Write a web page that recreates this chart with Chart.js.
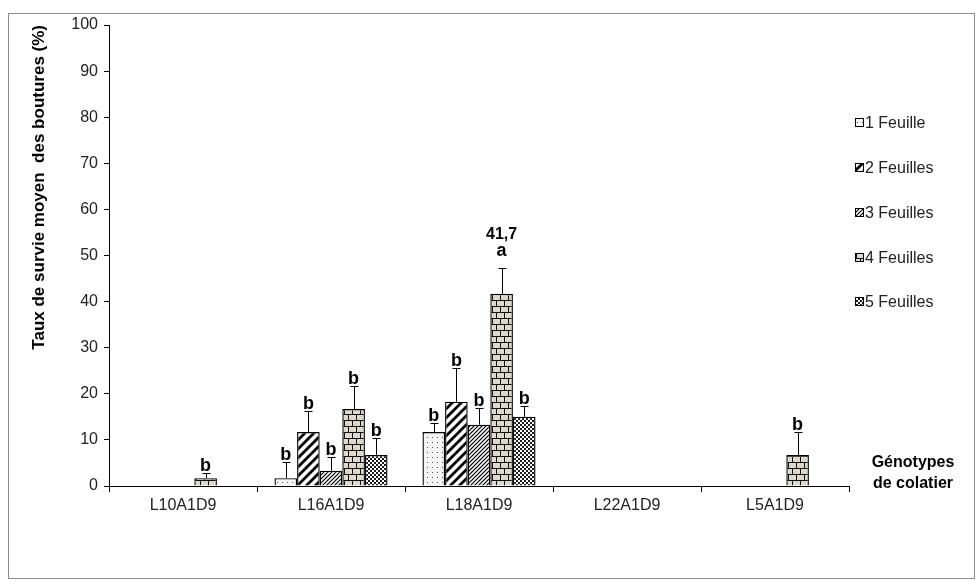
<!DOCTYPE html>
<html>
<head>
<meta charset="utf-8">
<script src="https://cdn.jsdelivr.net/npm/chart.js@4.4.1/dist/chart.umd.min.js"></script>
<style>
  html, body { margin: 0; padding: 0; background: #fff; }
  #wrap { width: 979px; height: 584px; position: relative; }
</style>
</head>
<body>
<div id="wrap"><canvas id="chart" width="979" height="584"></canvas></div>
<script>
// Genotypes (x categories)
const categories = ['L10A1D9', 'L16A1D9', 'L18A1D9', 'L22A1D9', 'L5A1D9'];
// Leaf-number treatments
const seriesNames = ['1 Feuille', '2 Feuilles', '3 Feuilles', '4 Feuilles', '5 Feuilles'];

// Mean survival rate (%) per genotype, one array per treatment
const feuille1 = [null, 1.7, 11.7, null, null];
const feuille2 = [null, 11.7, 18.3, null, null];
const feuille3 = [null, 3.3, 13.3, null, null];
const feuille4 = [1.7, 16.7, 41.7, null, 6.7];
const feuille5 = [null, 6.7, 15.0, null, null];

// Standard errors (upper whisker only)
const err1 = [null, 3.5, 2.0, null, null];
const err2 = [null, 4.6, 7.3, null, null];
const err3 = [null, 2.9, 3.6, null, null];
const err4 = [1.1, 5.0, 5.6, null, 5.1];
const err5 = [null, 3.7, 2.3, null, null];

// Significance letters
const letters1 = [null, 'b', 'b', null, null];
const letters2 = [null, 'b', 'b', null, null];
const letters3 = [null, 'b', 'b', null, null];
const letters4 = ['b', 'b', 'a', null, 'b'];
const letters5 = [null, 'b', 'b', null, null];

// Bars whose mean is printed above the letter
const showValue4 = [false, false, true, false, false];

const yTicks = [0, 10, 20, 30, 40, 50, 60, 70, 80, 90, 100];

const FONT = '"Liberation Sans", Arial, sans-serif';

// ---- hatch / texture fills ----
function tile(w, h, draw) {
  const c = document.createElement('canvas');
  c.width = w; c.height = h;
  const g = c.getContext('2d');
  draw(g, w, h);
  return document.getElementById('chart').getContext('2d').createPattern(c, 'repeat');
}
function diag(g, s, lw, color) {
  g.strokeStyle = color; g.lineWidth = lw; g.lineCap = 'square';
  for (const o of [-s, 0, s]) {
    g.beginPath(); g.moveTo(o, s); g.lineTo(o + s, 0); g.stroke();
  }
}
const fills = [
  // sparse dots
  tile(5, 5, (g) => { g.fillStyle = '#f4f4f4'; g.fillRect(0, 0, 5, 5); g.fillStyle = '#555'; g.fillRect(2, 2, 1, 1); }),
  // wide diagonal stripes
  tile(9, 9, (g, s) => { g.fillStyle = '#fff'; g.fillRect(0, 0, s, s); diag(g, s, 2.8, '#000'); }),
  // narrow diagonal stripes
  tile(4, 4, (g, s) => { g.fillStyle = '#fff'; g.fillRect(0, 0, s, s); diag(g, s, 1.2, '#000'); }),
  // bricks
  tile(8, 12, (g) => {
    g.fillStyle = '#dcd8cb'; g.fillRect(0, 0, 8, 12);
    g.fillStyle = '#111';
    g.fillRect(0, 0, 8, 1); g.fillRect(0, 6, 8, 1);
    g.fillRect(0, 0, 1, 6); g.fillRect(4, 6, 1, 6);
  }),
  // fine checkerboard
  tile(4, 4, (g) => {
    g.fillStyle = '#fff'; g.fillRect(0, 0, 4, 4);
    g.fillStyle = '#1a1a1a'; g.fillRect(0, 0, 2, 2); g.fillRect(2, 2, 2, 2);
  })
];

const values = [feuille1, feuille2, feuille3, feuille4, feuille5];
const errors = [err1, err2, err3, err4, err5];
const letters = [letters1, letters2, letters3, letters4, letters5];
const showValue = [null, null, null, showValue4, null];

const datasets = seriesNames.map((name, k) => ({
  label: name,
  data: values[k],
  backgroundColor: fills[k],
  borderColor: '#000',
  borderWidth: 1.4,
  borderSkipped: 'bottom',
  barPercentage: 1.0,
  categoryPercentage: 0.764
}));

// whiskers, letters and printed means
const annotate = {
  id: 'annotate',
  afterDatasetsDraw(chart) {
    const ctx = chart.ctx;
    const ys = chart.scales.y;
    ctx.save();
    datasets.forEach((ds, k) => {
      const meta = chart.getDatasetMeta(k);
      ds.data.forEach((v, i) => {
        if (v === null) return;
        const bar = meta.data[i];
        const x = Math.round(bar.x) + 0.5;
        const yTop = ys.getPixelForValue(v);
        let yEnd = yTop;
        const e = errors[k][i];
        if (e) {
          yEnd = Math.round(ys.getPixelForValue(v + e)) + 0.5;
          ctx.strokeStyle = '#000'; ctx.lineWidth = 1;
          ctx.beginPath(); ctx.moveTo(x, yTop); ctx.lineTo(x, yEnd);
          ctx.moveTo(x - 4, yEnd); ctx.lineTo(x + 4, yEnd); ctx.stroke();
        }
        ctx.fillStyle = '#000';
        ctx.textAlign = 'center';
        ctx.textBaseline = 'alphabetic';
        ctx.font = 'bold 18px ' + FONT;
        const L = letters[k][i];
        const labelled = showValue[k] && showValue[k][i];
        // a letter topped by the printed mean sits higher above its whisker
        const gap = labelled ? 13 : 3;
        if (L) ctx.fillText(L, bar.x, yEnd - gap);
        if (labelled) {
          ctx.font = 'bold 16px ' + FONT;
          ctx.fillText(v.toFixed(1).replace('.', ','), bar.x, yEnd - gap - 17);
        }
      });
    });
    ctx.restore();
  }
};

// legend, axis caption and frame
const decor = {
  id: 'decor',
  afterDraw(chart) {
    const ctx = chart.ctx;
    ctx.save();
    ctx.strokeStyle = '#8c8c8c'; ctx.lineWidth = 1;
    ctx.strokeRect(8.5, 13.5, 966, 565);

    const legendY = [123, 168, 213, 258, 302];
    seriesNames.forEach((name, k) => {
      const y = legendY[k];
      ctx.fillStyle = fills[k];
      ctx.fillRect(855, y - 4, 8, 8);
      ctx.strokeStyle = '#000'; ctx.lineWidth = 1;
      ctx.strokeRect(855.5, y - 4.5, 8, 8);
      ctx.fillStyle = '#222';
      ctx.font = '16px ' + FONT;
      ctx.textAlign = 'left'; ctx.textBaseline = 'middle';
      ctx.fillText(name, 865, y + 1);
    });

    ctx.fillStyle = '#000';
    ctx.font = 'bold 16px ' + FONT;
    ctx.textAlign = 'center'; ctx.textBaseline = 'middle';
    ctx.fillText('Génotypes', 913, 463);
    ctx.fillText('de colatier', 913, 484);
    ctx.restore();
  }
};

new Chart(document.getElementById('chart'), {
  type: 'bar',
  data: { labels: categories, datasets },
  plugins: [annotate, decor],
  options: {
    responsive: false,
    animation: false,
    devicePixelRatio: 1,
    layout: { padding: { left: 0, top: 25, right: 130, bottom: 58 } },
    plugins: { legend: { display: false }, tooltip: { enabled: false } },
    scales: {
      x: {
        afterFit: (s) => { s.height = 40; },
        grid: { display: true, offset: true, drawOnChartArea: false, drawTicks: true, tickLength: 6, color: '#000' },
        border: { display: true, color: '#000', width: 1 },
        ticks: { color: '#222', font: { family: FONT, size: 16 }, padding: 4 }
      },
      y: {
        min: 0, max: 100,
        afterFit: (s) => { s.width = 109; },
        afterBuildTicks: (s) => { s.ticks = yTicks.map(v => ({ value: v })); },
        grid: { display: true, drawOnChartArea: false, drawTicks: true, tickLength: 5, color: '#000' },
        border: { display: true, color: '#000', width: 1 },
        ticks: { color: '#222', font: { family: FONT, size: 16 }, padding: 6 },
        title: {
          display: true,
          text: 'Taux de survie moyen  des boutures (%)',
          align: 'end',
          color: '#000',
          font: { family: FONT, size: 17, weight: 'bold' },
          padding: { top: 29, bottom: 0 }
        }
      }
    }
  }
});
</script>
</body>
</html>
